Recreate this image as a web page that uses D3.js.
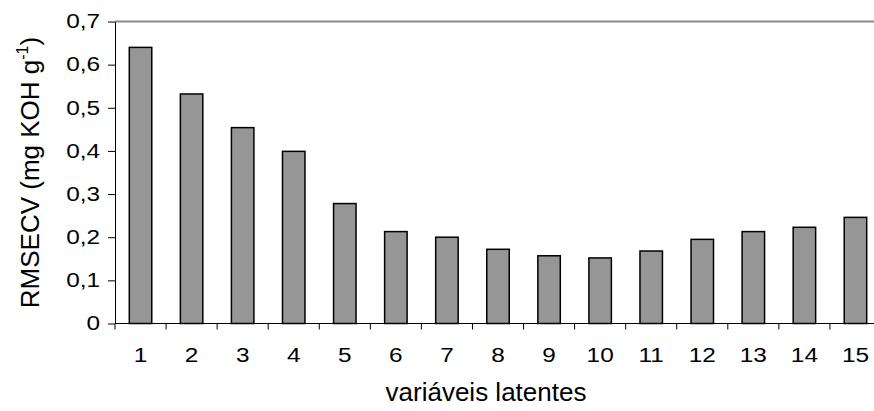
<!DOCTYPE html>
<html>
<head>
<meta charset="utf-8">
<script src="https://cdn.jsdelivr.net/npm/d3@7"></script>
<style>
  html, body { margin: 0; padding: 0; background: #fff; }
  svg { display: block; }
  text { font-family: 'Liberation Sans', Arial, sans-serif; fill: #000; }
</style>
</head>
<body>
<svg id="chart" width="874" height="411"></svg>
<script>
const categories = ['1', '2', '3', '4', '5', '6', '7', '8', '9', '10', '11', '12', '13', '14', '15']
const rmsecv = [0.64, 0.532, 0.454, 0.399, 0.278, 0.213, 0.2, 0.172, 0.157, 0.152, 0.168, 0.195, 0.213, 0.223, 0.246]
const yTicks = [0, 0.1, 0.2, 0.3, 0.4, 0.5, 0.6, 0.7]

const svg = d3.select('#chart')
const plotLeft = 115
const plotRight = 881
const plotTop = 21.5
const plotBottom = 323.5
const labelStretch = 1.25

const x = d3
  .scaleBand()
  .domain(categories)
  .range([plotLeft, plotRight])
  .paddingInner(0.56)
  .paddingOuter(0.28)

const y = d3.scaleLinear().domain([0, 0.7]).range([plotBottom, plotTop])

const fmt = (d) => (d === 0 ? '0' : d3.format('.1f')(d).replace('.', ','))

// top border of plot area
svg
  .append('line')
  .attr('x1', plotLeft)
  .attr('x2', 874)
  .attr('y1', plotTop)
  .attr('y2', plotTop)
  .attr('stroke', '#8a8a8a')
  .attr('stroke-width', 2)

// bars
svg
  .selectAll('rect.bar')
  .data(rmsecv)
  .join('rect')
  .attr('class', 'bar')
  .attr('x', (_, i) => x(categories[i]))
  .attr('width', x.bandwidth())
  .attr('y', (d) => y(d))
  .attr('height', (d) => plotBottom - y(d))
  .attr('fill', '#969696')
  .attr('stroke', '#000')
  .attr('stroke-width', 1.5)

// y axis
const yAxis = svg
  .append('g')
  .attr('transform', `translate(${plotLeft},0)`)
  .call(d3.axisLeft(y).tickValues(yTicks).tickFormat(fmt).tickSize(7).tickSizeOuter(0))
yAxis.select('.domain').attr('stroke', '#000')
yAxis.selectAll('.tick line').attr('stroke', '#000')
yAxis
  .selectAll('.tick text')
  .attr('x', 0)
  .attr('transform', `translate(-15,0) scale(${labelStretch},1)`)
  .attr('font-size', 19.5)
  .attr('font-family', "'Liberation Sans', Arial, sans-serif")
  .attr('fill', '#000')

// x axis: ticks at category boundaries
const step = x.step()
const bounds = d3.range(categories.length + 1).map((i) => plotLeft + i * step)
svg
  .append('line')
  .attr('x1', plotLeft)
  .attr('x2', 874)
  .attr('y1', plotBottom)
  .attr('y2', plotBottom)
  .attr('stroke', '#000')
svg
  .selectAll('line.xtick')
  .data(bounds)
  .join('line')
  .attr('class', 'xtick')
  .attr('x1', (d) => d)
  .attr('x2', (d) => d)
  .attr('y1', plotBottom)
  .attr('y2', plotBottom + 6)
  .attr('stroke', '#000')

svg
  .selectAll('text.xlab')
  .data(categories)
  .join('text')
  .attr('class', 'xlab')
  .attr('transform', (d) => `translate(${x(d) + x.bandwidth() / 2},362) scale(${labelStretch},1)`)
  .attr('text-anchor', 'middle')
  .attr('font-size', 19.5)
  .text((d) => d)

// axis titles
svg
  .append('text')
  .attr('x', 486)
  .attr('y', 401)
  .attr('text-anchor', 'middle')
  .attr('font-size', 26)
  .text('variáveis latentes')

const yt = svg
  .append('text')
  .attr('transform', `translate(39,${(plotTop + plotBottom) / 2}) rotate(-90)`)
  .attr('text-anchor', 'middle')
  .attr('font-size', 26)
yt.append('tspan').text('RMSECV (mg KOH g')
yt.append('tspan').attr('font-size', 16).attr('dy', -11).text('-1')
yt.append('tspan').attr('dy', 11).text(')')
</script>
</body>
</html>
